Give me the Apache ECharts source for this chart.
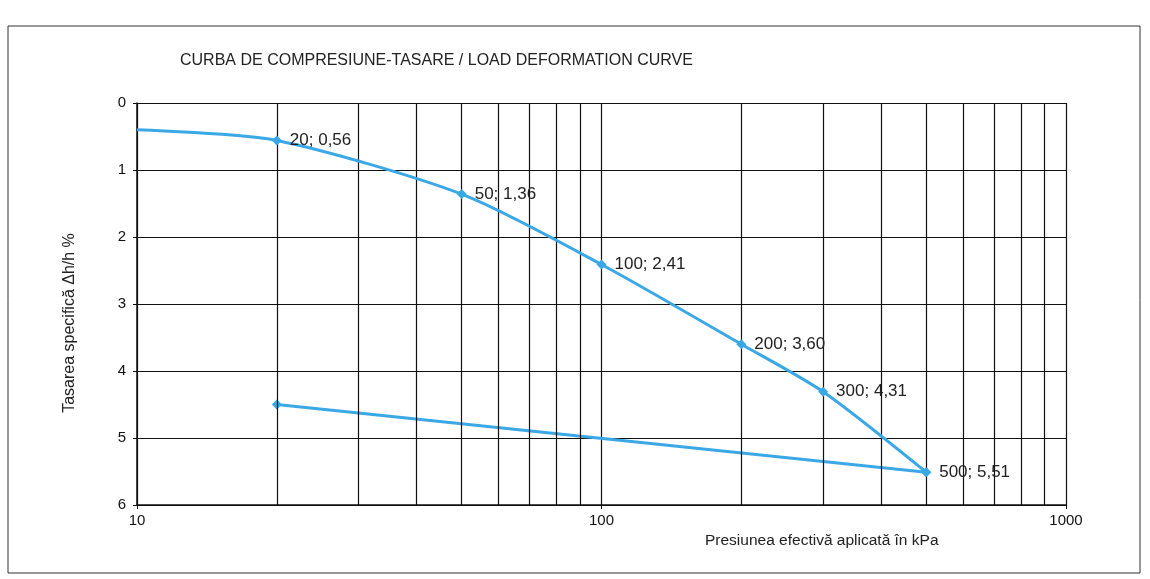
<!DOCTYPE html>
<html>
<head>
<meta charset="utf-8">
<style>
  html, body { margin: 0; padding: 0; background: #fff; }
  #chart { width: 1150px; height: 579px; }
</style>
<script src="https://cdn.jsdelivr.net/npm/echarts@6/dist/echarts.min.js"></script>
</head>
<body>
<div id="chart"></div>
<script>
// date
const pressure = [10, 20, 50, 100, 200, 300, 500];
const settlement = [0.40, 0.56, 1.36, 2.41, 3.60, 4.31, 5.51];
const unloadPressure = [500, 20];
const unloadSettlement = [5.51, 4.50];
const minorGrid = [20, 30, 40, 50, 60, 70, 80, 90, 200, 300, 400, 500, 600, 700, 800, 900];
const yTicks = [0, 1, 2, 3, 4, 5, 6];

const blue = '#3ba8e6';
const font = 'Liberation Sans, Arial, sans-serif';

function fmt(p, s) {
    return p + '; ' + s.toFixed(2).replace('.', ',');
}

let loadData = [];
for (let i = 0; i < pressure.length; i++) {
    let item = { value: [pressure[i], settlement[i]] };
    if (i === 0) {
        item.symbolSize = 0;
        item.label = { show: false };
    }
    loadData.push(item);
}
let unloadData = [];
for (let i = 0; i < unloadPressure.length; i++) {
    unloadData.push({ value: [unloadPressure[i], unloadSettlement[i]] });
}

let chart = echarts.init(document.getElementById('chart'));

let option = {
    backgroundColor: '#fff',
    animation: false,
    textStyle: { fontFamily: font },
    graphic: [
        {
            type: 'rect',
            shape: { x: 8, y: 26, width: 1132, height: 547 },
            style: { fill: 'none', stroke: '#333', lineWidth: 1 },
            silent: true
        },
        {
            type: 'text',
            left: 180,
            top: 53,
            style: {
                text: 'CURBA DE COMPRESIUNE-TASARE / LOAD DEFORMATION CURVE',
                fontSize: 16,
                fontFamily: font,
                fill: '#222'
            }
        },
        {
            type: 'text',
            left: 705,
            top: 533,
            style: {
                text: 'Presiunea efectivă aplicată în kPa',
                fontSize: 15.5,
                fontFamily: font,
                fill: '#222'
            }
        },
        {
            type: 'text',
            x: 70,
            y: 323,
            rotation: Math.PI / 2,
            style: {
                text: 'Tasarea specifică Δh/h %',
                fontSize: 16,
                fontFamily: font,
                fill: '#222',
                align: 'center',
                verticalAlign: 'middle'
            }
        }
    ],
    grid: {
        left: 137,
        right: 84,
        top: 103,
        bottom: 74
    },
    xAxis: {
        type: 'log',
        logBase: 10,
        min: 10,
        max: 1000,
        axisLine: { onZero: false, lineStyle: { color: '#111', width: 1.5 } },
        axisTick: { show: true, length: 4, lineStyle: { color: '#111' } },
        axisLabel: {
            color: '#111',
            fontSize: 15,
            margin: 8,
            formatter: function (v) { return String(Math.round(v)); }
        },
        splitLine: { show: true, lineStyle: { color: '#111', width: 1.2 } }
    },
    yAxis: {
        type: 'value',
        inverse: true,
        min: yTicks[0],
        max: yTicks[yTicks.length - 1],
        interval: 1,
        axisLine: { show: true, lineStyle: { color: '#111', width: 1.5 } },
        axisTick: { show: true, length: 4, lineStyle: { color: '#111' } },
        axisLabel: { color: '#111', fontSize: 15, margin: 11 },
        splitLine: { show: true, lineStyle: { color: '#111', width: 1.2 } }
    },
    series: [
        {
            // linii verticale intermediare pe scara log
            type: 'line',
            data: [],
            silent: true,
            markLine: {
                silent: true,
                symbol: 'none',
                label: { show: false },
                lineStyle: { color: '#111', width: 1.2, type: 'solid' },
                data: minorGrid.map(v => ({ xAxis: v }))
            }
        },
        {
            name: 'incarcare',
            type: 'line',
            smooth: 0.25,
            data: loadData,
            symbol: 'diamond',
            symbolSize: 10,
            lineStyle: { color: blue, width: 3 },
            itemStyle: { color: blue },
            label: {
                show: true,
                position: 'right',
                distance: 8,
                color: '#222',
                fontSize: 17,
                formatter: function (p) {
                    return fmt(p.value[0], p.value[1]);
                }
            },
            z: 5
        },
        {
            name: 'descarcare',
            type: 'line',
            data: unloadData,
            symbol: 'diamond',
            symbolSize: 10,
            lineStyle: { color: blue, width: 3 },
            itemStyle: { color: blue },
            z: 4
        }
    ]
};

chart.setOption(option);
</script>
</body>
</html>
